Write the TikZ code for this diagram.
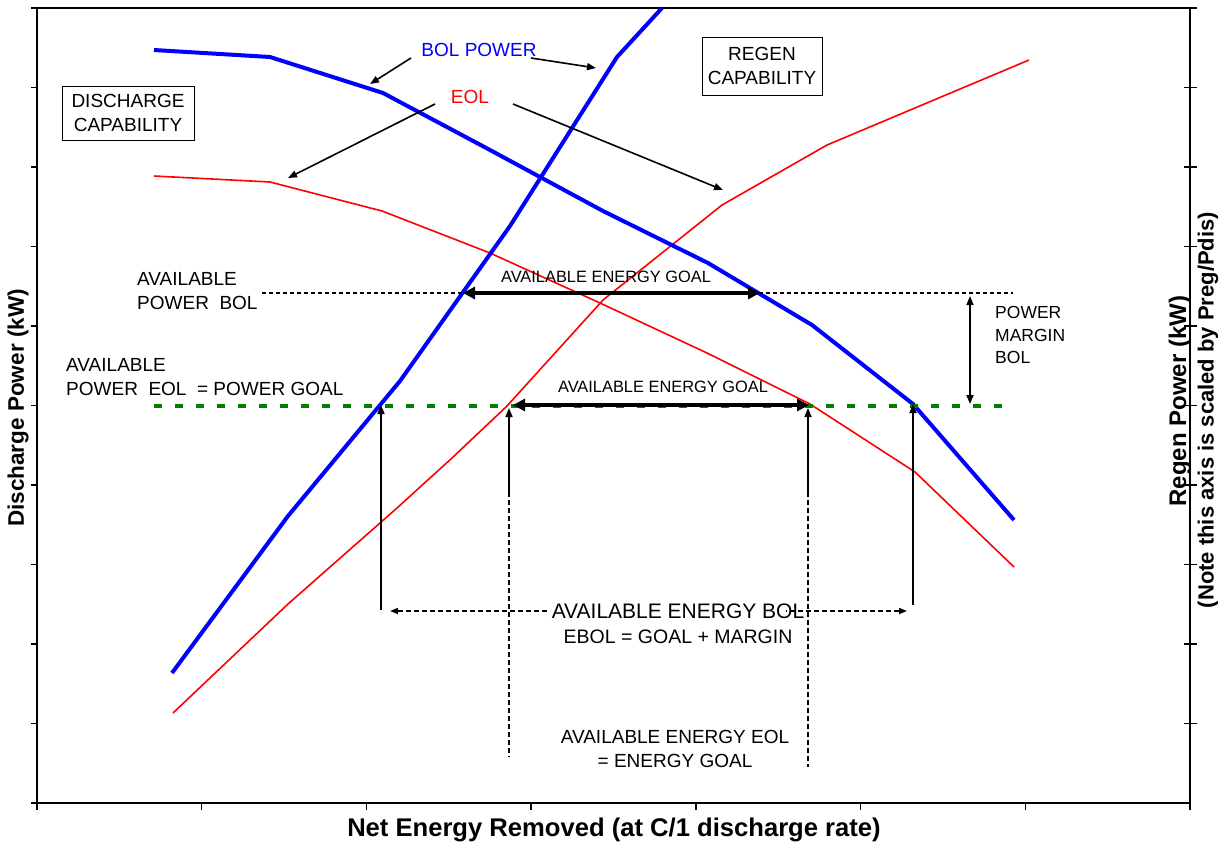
\documentclass[tikz,border=0pt]{standalone}
\usepackage{fontspec}
\setmainfont{Liberation Sans}
\usetikzlibrary{arrows.meta}
\definecolor{cblue}{RGB}{0,0,255}
\definecolor{cred}{RGB}{255,0,0}
\definecolor{cgreen}{RGB}{0,128,0}
\begin{document}
\begin{tikzpicture}[x=1pt,y=-1pt,
  axisline/.style={line width=1.4pt,black},
  bolcurve/.style={line width=4pt,cblue,line join=round},
  eolcurve/.style={line width=1.6pt,cred,line join=round},
  thinarrow/.style={line width=1.6pt,-{Triangle[length=9pt,width=7pt]}},
  thickarrow/.style={line width=3.5pt,{Triangle[length=12pt,width=12pt]}-{Triangle[length=12pt,width=12pt]}},
  dashline/.style={line width=1.6pt,dash pattern=on 5pt off 3pt},
  lab/.style={font=\fontsize{19}{24}\selectfont,inner sep=0pt,align=center},
  smalllab/.style={font=\fontsize{16.4}{20}\selectfont,inner sep=0pt},
  boxlab/.style={draw,line width=0.9pt,font=\fontsize{19}{24}\selectfont,align=center,inner sep=0pt},
  axislab/.style={font=\bfseries,inner sep=0pt}
]
\useasboundingbox (0,0) rectangle (1228,846);

% axes
\draw[axisline] (31,8) -- (1197,8);
\draw[axisline] (37,8) -- (37,803) -- (1190,803) -- (1190,8);
\foreach \k in {1,...,10} {
  \pgfmathsetmacro{\yy}{8+79.5*\k}
  \draw[axisline] (31,\yy) -- (37,\yy);
}
\foreach \k in {1,...,9} {
  \pgfmathsetmacro{\yy}{8+79.5*\k}
  \draw[axisline] (1184,\yy) -- (1197,\yy);
}
\foreach \k in {0,...,7} {
  \pgfmathsetmacro{\xx}{37+164.714*\k}
  \draw[axisline] (\xx,803) -- (\xx,810);
}

% curves
\draw[eolcurve] (154,176) -- (270,182) -- (382,211) -- (490,253) -- (600,303) -- (707,353) -- (810,404) -- (915,472) -- (1014,567);
\draw[eolcurve] (173,713) -- (288,604) -- (397,508) -- (452,458) -- (507,406) -- (603,300) -- (722,205) -- (827,145) -- (1029,60);
\draw[bolcurve] (154,50) -- (270,57) -- (383,93) -- (490,150) -- (603,211) -- (708,263) -- (812,325) -- (913,404) -- (1014,520);
\draw[bolcurve] (172,673) -- (288,516) -- (400,381) -- (510,226) -- (617,57) -- (662,8);

% reference lines
\draw[line width=1.6pt,dash pattern=on 4pt off 3pt] (262,293) -- (1013,293);
\draw[line width=3.5pt,cgreen,dash pattern=on 8pt off 13pt] (154,406) -- (1007,406);

% coordinates
\coordinate (gu1) at (463,293);
\coordinate (gu2) at (760,293);
\coordinate (gl1) at (513,405);
\coordinate (gl2) at (809,405);
\coordinate (a1b) at (381,610);
\coordinate (a1t) at (381,405);
\coordinate (a2b) at (509,492);
\coordinate (a2t) at (509,408);
\coordinate (a2e) at (509,757);
\coordinate (a3b) at (808,492);
\coordinate (a3t) at (808,408);
\coordinate (a3e) at (808,767);
\coordinate (a4b) at (913,605);
\coordinate (a4t) at (913,404);
\coordinate (eb1) at (390,611);
\coordinate (eb2) at (907,611);
\coordinate (pm1) at (970,296);
\coordinate (pm2) at (970,404);

% energy arrows
\draw[thickarrow] (gu1) -- (gu2);
\draw[thickarrow] (gl1) -- (gl2);
\draw[thinarrow] (a1b) -- (a1t);
\draw[thinarrow] (a2b) -- (a2t);
\draw[thinarrow] (a3b) -- (a3t);
\draw[thinarrow] (a4b) -- (a4t);
\draw[dashline,{Triangle[length=8pt,width=6pt]}-{Triangle[length=8pt,width=6pt]}] (eb1) -- (eb2);
\fill[white] (549,601) rectangle (786,622);
\draw[dashline] (a2b) -- (a2e);
\draw[dashline] (a3b) -- (a3e);
\draw[line width=1.6pt,{Triangle[length=9pt,width=7pt]}-{Triangle[length=9pt,width=7pt]}] (pm1) -- (pm2);

% labels
\node[boxlab,minimum width=132pt,minimum height=54pt] (dcap) at (128,113) {DISCHARGE\\CAPABILITY};
\node[boxlab,minimum width=120pt,minimum height=58pt] (rcap) at (762,66) {REGEN\\CAPABILITY};
\node[lab,text=cblue] (bolp) at (479,50) {BOL POWER};
\node[lab,text=cred] (eol) at (470,97) {EOL};
\node[lab,align=left,anchor=west] (apb) at (137,291) {AVAILABLE\\POWER\ \ BOL};
\node[lab,align=left,anchor=west] (ape) at (66,377) {AVAILABLE\\POWER\ \ EOL\ \ = POWER GOAL};
\node[smalllab] (aeg1) at (606,277) {AVAILABLE ENERGY GOAL};
\node[smalllab] (aeg2) at (663,387) {AVAILABLE ENERGY GOAL};
\node[lab,align=left,anchor=west,font=\fontsize{17.5}{22.5}\selectfont] (pmb) at (995,335) {POWER\\MARGIN\\BOL};
\node[lab,font=\fontsize{21}{26}\selectfont] (aebol) at (678,611) {AVAILABLE ENERGY BOL};
\node[lab,font=\fontsize{19.5}{24}\selectfont] (ebol) at (678,637) {EBOL = GOAL + MARGIN};
\node[lab] (aeeol) at (675,749) {AVAILABLE ENERGY EOL\\= ENERGY GOAL};

% label pointer arrows
\coordinate (p1s) at (411,58);  \coordinate (p1e) at (370,84);
\coordinate (p2s) at (531,58);  \coordinate (p2e) at (596,68);
\coordinate (p3s) at (435,104); \coordinate (p3e) at (288,178);
\coordinate (p4s) at (513,104); \coordinate (p4e) at (723,190);
\draw[thinarrow] (p1s) -- (p1e);
\draw[thinarrow] (p2s) -- (p2e);
\draw[thinarrow] (p3s) -- (p3e);
\draw[thinarrow] (p4s) -- (p4e);

% axis titles
\node[axislab,font=\fontsize{22.5}{26}\bfseries\selectfont,rotate=90] (ylab) at (18,408) {Discharge Power (kW)};
\node[axislab,font=\fontsize{25.6}{28}\bfseries\selectfont] (xlab) at (614,830) {Net Energy Removed (at C/1 discharge rate)};
\node[axislab,font=\fontsize{24}{28}\bfseries\selectfont,rotate=90] (rlab) at (1180,401) {Regen Power (kW)};
\node[axislab,font=\fontsize{22}{26}\bfseries\selectfont,rotate=90] (rnote) at (1208,410) {(Note this axis is scaled by Preg/Pdis)};
\end{tikzpicture}
\end{document}
